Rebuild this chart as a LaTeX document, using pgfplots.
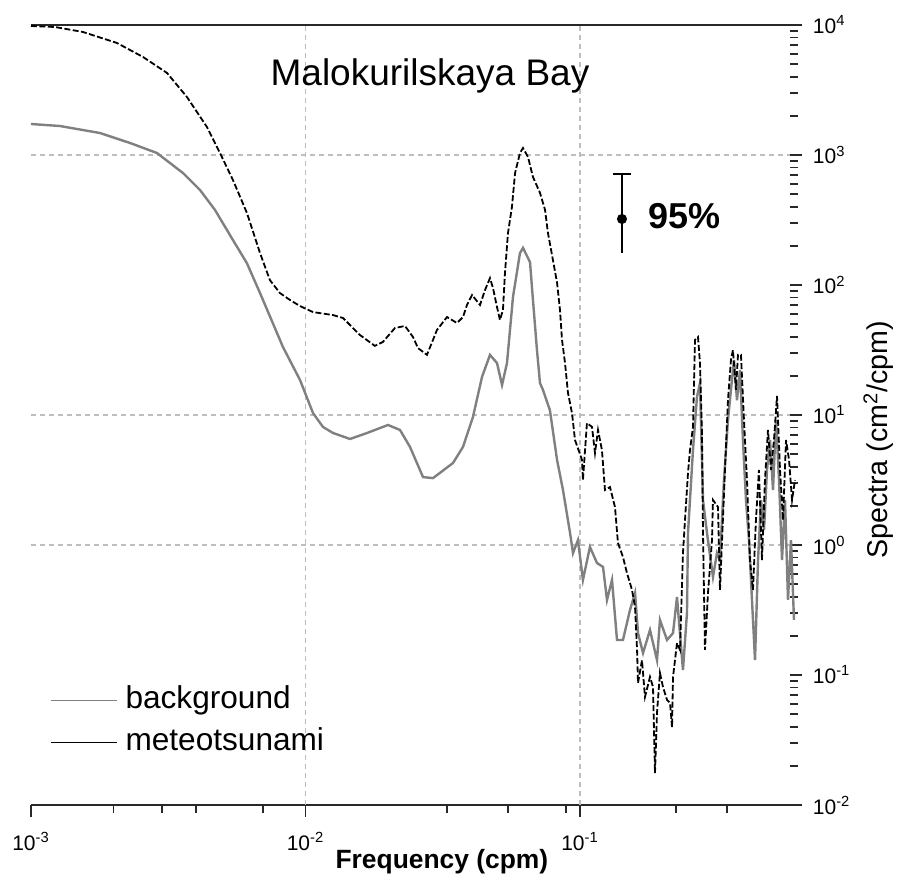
\documentclass[border=0pt]{standalone}
\usepackage{pgfplots}
\pgfplotsset{compat=1.18}
\usepackage{pgfplotstable}
\usepackage{fontspec}
\setmainfont{Liberation Sans}
\definecolor{bggray}{RGB}{128,128,128}
\definecolor{gridgray}{RGB}{190,190,190}
\definecolor{axdark}{RGB}{40,40,40}

\pgfplotstableread{
f S
1.000e-3 1732
1.275e-3 1671
1.784e-3 1476
2.295e-3 1237
2.877e-3 1036
3.578e-3 727
4.128e-3 538
4.680e-3 378
5.440e-3 222
6.120e-3 147
6.830e-3 86.7
8.280e-3 33.3
9.550e-3 18.6
1.065e-2 10.35
1.158e-2 8.09
1.260e-2 7.27
1.453e-2 6.54
1.675e-2 7.27
1.998e-2 8.38
2.210e-2 7.67
2.403e-2 5.68
2.680e-2 3.33
2.914e-2 3.27
3.446e-2 4.27
3.748e-2 5.68
4.075e-2 9.66
4.395e-2 19.6
4.700e-2 29.0
4.985e-2 25.1
5.200e-2 17.0
5.420e-2 25.1
5.700e-2 80.9
6.045e-2 176
6.200e-2 193
6.575e-2 150
6.740e-2 76.7
6.970e-2 31.6
7.150e-2 17.6
7.330e-2 15.6
7.770e-2 10.9
8.250e-2 4.51
8.670e-2 2.65
9.200e-2 1.236
9.430e-2 0.867
9.830e-2 1.09
0.1025 0.538
0.1087 0.966
0.1153 0.727
0.1213 0.678
0.1254 0.378
0.1308 0.538
0.1364 0.186
0.1434 0.186
0.1521 0.316
0.1587 0.428
0.1627 0.210
0.1697 0.1476
0.1799 0.222
0.1908 0.130
0.1956 0.265
0.2075 0.186
0.2182 0.210
0.2256 0.398
0.2372 0.109
0.2453 0.300
0.2474 1.236
0.2580 5.38
0.2668 13.8
0.2736 17.6
0.2806 2.22
0.2902 1.236
0.3051 0.568
0.3155 0.867
0.3236 0.767
0.3346 3.16
0.3460 9.16
0.3548 15.6
0.3639 26.5
0.3732 13.0
0.3827 22.2
0.3924 6.42
0.4024 2.22
0.4127 1.09
0.4232 0.378
0.4341 0.130
0.4452 0.767
0.4565 2.22
0.4681 1.30
0.4800 3.78
0.4923 6.42
0.5048 2.65
0.5176 9.16
0.5309 3.16
0.5444 0.767
0.5583 2.22
0.5724 0.378
0.5870 1.09
0.6020 0.265
}\background

\pgfplotstableread{
f S
1.000e-3 9825
1.223e-3 9652
1.547e-3 8836
2.057e-3 7271
2.559e-3 5675
3.130e-3 4276
3.700e-3 2793
4.377e-3 1642
4.880e-3 1036
5.440e-3 643
6.120e-3 358
6.830e-3 176
7.420e-3 109
8.070e-3 86.7
8.780e-3 76.7
9.550e-3 68.9
1.065e-2 61.9
1.260e-2 58.7
1.370e-2 55.7
1.580e-2 41.2
1.790e-2 34.0
1.915e-2 36.5
2.118e-2 46.7
2.304e-2 48.4
2.464e-2 39.8
2.570e-2 32.7
2.770e-2 29.0
3.013e-2 45.1
3.278e-2 56.7
3.564e-2 51.0
3.748e-2 56.7
3.875e-2 70.2
4.043e-2 83.8
4.323e-2 70.2
4.508e-2 91.5
4.700e-2 113
4.820e-2 94.8
4.985e-2 67.7
5.110e-2 53.8
5.240e-2 64.2
5.330e-2 124
5.466e-2 251
5.650e-2 398
5.800e-2 727
6.045e-2 1036
6.200e-2 1132
6.465e-2 966
6.740e-2 678
7.150e-2 511
7.460e-2 378
7.645e-2 251
7.970e-2 156
8.250e-2 104
8.455e-2 64.2
8.600e-2 37.8
8.820e-2 25.1
9.040e-2 14.8
9.350e-2 10.35
9.590e-2 6.42
0.1017 4.51
0.1025 3.16
0.1060 8.67
0.1106 8.09
0.1134 5.10
0.1163 7.67
0.1202 5.38
0.1233 2.65
0.1286 2.79
0.1341 1.96
0.1375 1.036
0.1434 0.809
0.1483 0.609
0.1547 0.451
0.1587 0.333
0.1614 0.156
0.1627 0.0868
0.1682 0.130
0.1725 0.0678
0.1799 0.0966
0.1845 0.0809
0.1876 0.0176
0.1908 0.0511
0.1956 0.1035
0.2006 0.0809
0.2075 0.0643
0.2128 0.0609
0.2164 0.0398
0.2182 0.0966
0.2256 0.176
0.2314 0.156
0.2372 0.867
0.2413 1.556
0.2474 3.58
0.2516 5.38
0.2580 8.09
0.2624 37.8
0.2691 39.8
0.2736 25.1
0.2782 7.27
0.2806 1.236
0.2853 0.156
0.2926 0.428
0.3026 1.09
0.3051 2.22
0.3182 1.96
0.3236 0.451
0.3374 3.78
0.3460 13.0
0.3548 26.5
0.3608 31.6
0.3700 15.6
0.3763 29.0
0.3859 29.0
0.3957 9.16
0.4058 3.16
0.4161 0.767
0.4267 0.451
0.4375 1.556
0.4487 3.78
0.4601 0.767
0.4719 3.16
0.4839 7.67
0.4963 3.78
0.5089 6.42
0.5220 14.0
0.5354 3.78
0.5490 1.556
0.5630 6.42
0.5775 4.51
0.5922 2.22
0.6071 3.16
}\meteo

\begin{document}
\begin{tikzpicture}
\useasboundingbox (-15.5pt,-36pt) rectangle (434.5pt,402.5pt);
\begin{axis}[
  at={(0,0)}, anchor=south west,
  scale only axis, width=385.5pt, height=390pt,
  xmode=log, ymode=log,
  xmin=1e-3, xmax=0.6437, ymin=1e-2, ymax=1e4,
  separate axis lines,
  x axis line style={draw=axdark, line width=0.9pt},
  y axis line style={draw=none},
  xtick pos=bottom, ytick pos=right, yticklabel pos=right,
  tick align=outside,
  major tick length=6pt, minor tick length=4pt,
  tick style={axdark, line width=0.8pt},
  y tick style={xshift=-6pt},
  xtick={1e-3,1e-2,1e-1},
  xticklabels={10\textsuperscript{-3},10\textsuperscript{-2},10\textsuperscript{-1}},
  minor xtick={2e-3,3e-3,4e-3,7e-3,3.28e-2,5.47e-2,8.89e-2,0.2237,0.343},
  ytick={1e-2,1e-1,1,10,100,1000,10000},
  yticklabels={10\textsuperscript{-2},10\textsuperscript{-1},10\textsuperscript{0},10\textsuperscript{1},10\textsuperscript{2},10\textsuperscript{3},10\textsuperscript{4}},
  extra x ticks={1e-2,1e-1}, extra x tick labels={},
  extra x tick style={grid=major},
  extra y ticks={1,10,1000}, extra y tick labels={},
  extra y tick style={grid=major},
  major grid style={gridgray, dash pattern=on 2.5pt off 2pt, line width=0.6pt},
  ticklabel style={font=\fontsize{10.5}{12}\selectfont},
  xticklabel style={anchor=north, yshift=-4pt},
  yticklabel style={anchor=west, xshift=-4pt},
  xlabel={\textbf{Frequency (cpm)}},
  ylabel={Spectra (cm\textsuperscript{2}/cpm)},
  every axis x label/.style={at={(axis description cs:0.533,-0.0808)}, anchor=base, font=\fontsize{13.2}{15}\selectfont},
  every axis y label/.style={at={(axis description cs:1.1115,0.468)}, rotate=90, anchor=base, font=\fontsize{14.3}{16}\selectfont},
  legend style={at={(axis description cs:0.0246,0.158)}, anchor=north west, draw=none, fill=none, inner sep=0pt,
    font=\fontsize{15.8}{18}\selectfont, row sep=3pt,
    nodes={inner sep=1.5pt, text height=11.5pt, text depth=3.5pt},
    /tikz/every odd column/.append style={column sep=2.5pt}},
  legend cell align=left,
  legend image code/.code={\draw[#1, solid, line width=0.6pt] (0pt,0pt) -- (33pt,0pt);},
]
\addplot[bggray, line width=1.2pt] table[x=f, y=S] {\background};
\addlegendentry{background}
\addplot[black, line width=0.9pt, dash pattern=on 3pt off 1.2pt] table[x=f, y=S] {\meteo};
\addlegendentry{meteotsunami}
\addplot[black, line width=0.8pt, mark=*, mark size=2.1pt, forget plot,
  error bars/.cd, y dir=plus, y explicit, error mark=|,
  error mark options={line width=0.8pt, mark size=4.5pt},
  error bar style={line width=0.8pt}]
  coordinates {(0.1422,322) += (0,392) -= (0,146)};
\addplot[black, line width=0.8pt, draw=none, forget plot,
  error bars/.cd, y dir=minus, y explicit, error mark=none,
  error bar style={line width=0.8pt}]
  coordinates {(0.1422,322) += (0,392) -= (0,146)};
\node[anchor=base, font=\fontsize{18.5}{22}\selectfont] at (rel axis cs:0.5175,0.923) {Malokurilskaya Bay};
\node[anchor=base west, inner sep=0pt, font=\bfseries\fontsize{18}{21}\selectfont] at (axis cs:0.1769,270) {95\%};
\end{axis}
\end{tikzpicture}
\end{document}
